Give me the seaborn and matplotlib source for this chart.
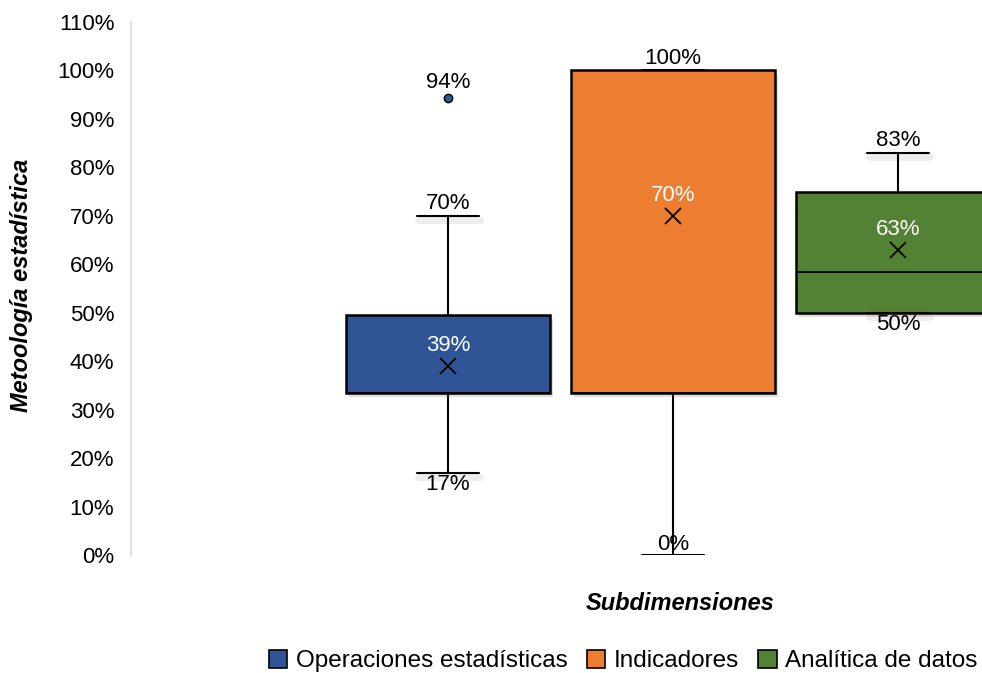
import matplotlib
matplotlib.use("Agg")
import numpy as np
import matplotlib.pyplot as plt
import matplotlib.patheffects as pe
from matplotlib.patches import Patch
from matplotlib.ticker import PercentFormatter
import seaborn as sns

# Summary statistics per subdimension (fractions of 1)
categories = ["Operaciones estadísticas", "Indicadores", "Analítica de datos"]
box_colors = ["#2F5597", "#ED7D31", "#548235"]
q1 = [0.335, 0.335, 0.50]
median = [0.335, 0.335, 0.585]
q3 = [0.495, 1.00, 0.75]
whisker_low = [0.17, 0.00, 0.50]
whisker_high = [0.70, 1.00, 0.83]
means = [0.39, 0.70, 0.63]
outliers = [[0.944], [], []]

sns.set_theme(style="white")
plt.rcParams["font.family"] = ["Liberation Sans", "DejaVu Sans"]
plt.rcParams["text.color"] = "black"
palette = sns.color_palette(box_colors)
FS = 16

fig = plt.figure(figsize=(9.82, 6.73), dpi=100)
ax = fig.add_axes([131 / 982, 1 - 555 / 673, 1 - 131 / 982, (555 - 22) / 673])

positions = [1, 2, 3]
stats = []
for i, cat in enumerate(categories):
    stats.append(dict(label=cat, q1=q1[i], med=median[i], q3=q3[i],
                      whislo=whisker_low[i], whishi=whisker_high[i],
                      mean=means[i], fliers=np.array(outliers[i])))

shadow = [pe.SimplePatchShadow(offset=(2, -3), alpha=0.25, shadow_rgbFace="#808080"), pe.Normal()]
line_shadow = [pe.SimpleLineShadow(offset=(1, -3), alpha=0.08, linewidth=5), pe.Normal()]

bp = ax.bxp(stats, positions=positions, widths=0.907, capwidths=0.275,
            patch_artist=True, showmeans=True, showfliers=True,
            boxprops=dict(edgecolor="black", linewidth=1.8),
            whiskerprops=dict(color="black", linewidth=1.5),
            capprops=dict(color="black", linewidth=1.5),
            medianprops=dict(color="black", linewidth=1.3),
            meanprops=dict(marker="x", markeredgecolor="black", markersize=12,
                           markeredgewidth=1.3),
            flierprops=dict(marker="o", markerfacecolor=box_colors[0],
                            markeredgecolor="black", markersize=6,
                            markeredgewidth=1.0))

for patch, col in zip(bp["boxes"], palette):
    patch.set_facecolor(col)
    patch.set_path_effects(shadow)
    patch.set_zorder(2)
for i, ln in enumerate(bp["caps"]):
    ln.set_zorder(2.5)
    # the cap lying on the top edge of a box gets no extra shadow
    if i != 3:
        ln.set_path_effects(line_shadow)
for ln in bp["whiskers"]:
    ln.set_zorder(1.5)
for ln in bp["medians"] + bp["means"] + bp["fliers"]:
    ln.set_zorder(3)

label_kw = dict(fontsize=FS, ha="center")
for i, p in enumerate(positions):
    # whisker end labels
    ax.annotate(f"{whisker_high[i]:.0%}", (p, whisker_high[i]), xytext=(0, 1),
                textcoords="offset points", va="bottom", color="black", **label_kw)
    if whisker_low[i] == 0:
        ax.annotate(f"{whisker_low[i]:.0%}", (p, whisker_low[i]), xytext=(0, 0),
                    textcoords="offset points", va="bottom", color="black", **label_kw)
    else:
        ax.annotate(f"{whisker_low[i]:.0%}", (p, whisker_low[i]), xytext=(0, -1),
                    textcoords="offset points", va="top", color="black", **label_kw)
    # mean labels
    ax.annotate(f"{means[i]:.0%}", (p, means[i]), xytext=(0, 7),
                textcoords="offset points", va="bottom", color="white",
                zorder=4, **label_kw)
    # outlier labels
    for v in outliers[i]:
        ax.annotate(f"{v:.0%}", (p, v), xytext=(0, 3), textcoords="offset points",
                    va="bottom", color="black", **label_kw)

ax.set_xlim(-0.409, 3.373)
ax.set_ylim(0, 1.1)
ax.set_yticks(np.arange(0, 1.101, 0.1))
ax.yaxis.set_major_formatter(PercentFormatter(1.0, decimals=0))
ax.tick_params(axis="y", length=0, pad=12, labelsize=FS, labelcolor="black")
ax.set_xticks([])
for s in ["top", "right", "bottom"]:
    ax.spines[s].set_visible(False)
ax.spines["left"].set_color("#d9d9d9")
ax.spines["left"].set_linewidth(1.2)
ax.set_facecolor("white")
ax.grid(False)

fig.text(22 / 982, 1 - 285 / 673, "Metoología estadística", rotation=90,
         ha="center", va="center", fontsize=17, fontweight="bold", style="italic",
         color="black")
fig.text(680 / 982, 1 - 604 / 673, "Subdimensiones", ha="center", va="center",
         fontsize=17, fontweight="bold", style="italic", color="black")

handles = [Patch(facecolor=c, edgecolor="black", linewidth=1.2) for c in palette]
fig.legend(handles, categories, loc="center right",
           bbox_to_anchor=(0.998, 1 - 661 / 673), ncol=3, frameon=False,
           fontsize=17.5, handlelength=0.75, handleheight=0.75, handletextpad=0.35,
           columnspacing=0.8, borderaxespad=0, borderpad=0.1, labelcolor="black")

fig.savefig("out.png", dpi=100, facecolor="white")
